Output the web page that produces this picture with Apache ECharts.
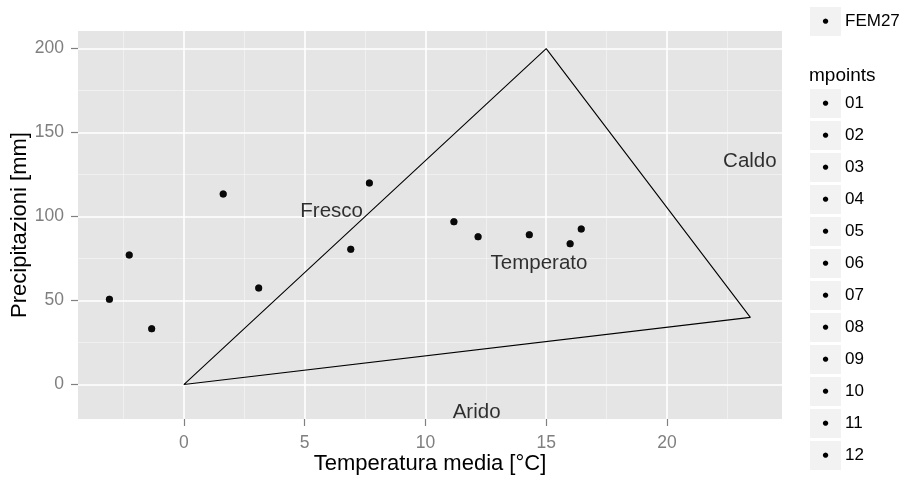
<!DOCTYPE html>
<html>
<head>
<meta charset="utf-8">
<script src="https://cdn.jsdelivr.net/npm/echarts@6/dist/echarts.min.js"></script>
<style>html,body{margin:0;padding:0;background:#fff}#c{width:906px;height:477px}</style>
</head>
<body>
<div id="c"></div>
<script>
// ---- data ----
const months = ['01','02','03','04','05','06','07','08','09','10','11','12'];
const tempMedia = [-3.08, -1.33, 3.10, 6.91, 11.18, 14.30, 16.45, 15.99, 12.18, 7.68, 1.63, -2.26];
const precip    = [50.8, 33.3, 57.5, 80.5, 97.0, 89.2, 92.6, 83.9, 88.0, 120.0, 113.5, 77.1];
const triX = [0, 15, 23.45, 0];
const triY = [0, 200, 40, 0];
const annotText = ['Fresco', 'Temperato', 'Caldo', 'Arido'];
const annotX = [6.12, 14.70, 23.43, 12.12];
const annotY = [102.9, 72.2, 132.7, -16.3];
const xTicks = [0, 5, 10, 15, 20];
const xMinor = [-2.5, 2.5, 7.5, 12.5, 17.5, 22.5];
const yTicks = [0, 50, 100, 150, 200];
const yMinor = [25, 75, 125, 175];
const stationName = 'FEM27';
const legendTitle = 'mpoints';

// ---- chart ----
const FF = '"Liberation Sans", Arial, sans-serif';
const chart = echarts.init(document.getElementById('c'), null, {renderer: 'canvas'});

const legendRich = {
  k: {width: 31, height: 29, lineHeight: 29, backgroundColor: '#F2F2F2', align: 'center',
      verticalAlign: 'middle', fontSize: 7, color: '#000', fontFamily: '"DejaVu Sans"'},
  t: {fontSize: 17, color: '#000', lineHeight: 29, verticalAlign: 'middle', padding: [0, 0, 0, 4], fontFamily: FF}
};
const legendFmt = name => '{k|●}{t|' + name + '}';

const series = [];
series.push({
  type: 'line', data: [], silent: true, z: 1, animation: false,
  markLine: {silent: true, z: 1, symbol: ['none', 'none'], label: {show: false}, animation: false,
    emphasis: {disabled: true},
    lineStyle: {color: '#F2F2F2', width: 0.8, type: 'solid'},
    data: xMinor.map(v => ({xAxis: v})).concat(yMinor.map(v => ({yAxis: v})))}
});
series.push({
  type: 'line', data: [], silent: true, z: 1, animation: false,
  markLine: {silent: true, z: 1, symbol: ['none', 'none'], label: {show: false}, animation: false,
    emphasis: {disabled: true},
    lineStyle: {color: '#FFFFFF', width: 1.6, type: 'solid'},
    data: xTicks.map(v => ({xAxis: v})).concat(yTicks.map(v => ({yAxis: v})))}
});
series.push({
  type: 'line', silent: true, z: 6, animation: false, showSymbol: false, symbol: 'none',
  lineStyle: {color: '#000', width: 1.1},
  data: triX.map((x, i) => [x, triY[i]])
});
series.push({
  type: 'scatter', silent: true, z: 7, animation: false, symbolSize: 0,
  label: {show: true, position: 'inside', formatter: p => p.data.name, color: '#000', fontSize: 20.5, fontFamily: FF},
  data: annotText.map((t, i) => ({name: t, value: [annotX[i], annotY[i]]}))
});
series.push({
  name: stationName, type: 'scatter', z: 8, animation: false, symbolSize: 7,
  itemStyle: {color: '#000'},
  data: tempMedia.map((x, i) => [x, precip[i]])
});
months.forEach((m, i) => {
  series.push({
    name: m, type: 'scatter', z: 8, animation: false, symbolSize: 7,
    itemStyle: {color: '#000'},
    data: [[tempMedia[i], precip[i]]]
  });
});

chart.setOption({
  animation: false,
  backgroundColor: '#fff',
  title: [{text: legendTitle, left: 809, top: 66, padding: 0,
    textStyle: {fontSize: 19, fontWeight: 'normal', color: '#000', fontFamily: FF}}],
  legend: [
    {data: [stationName], left: 805, top: 7, padding: 0, orient: 'vertical', icon: 'none',
     itemWidth: 0, itemHeight: 29, itemGap: 3, selectedMode: false, formatter: legendFmt,
     textStyle: {rich: legendRich}},
    {data: months, left: 805, top: 89, padding: 0, orient: 'vertical', icon: 'none',
     itemWidth: 0, itemHeight: 29, itemGap: 3, selectedMode: false, formatter: legendFmt,
     textStyle: {rich: legendRich}}
  ],
  grid: {left: 78, right: 124, top: 31, bottom: 58, show: true, backgroundColor: '#E5E5E5', borderWidth: 0,
    containLabel: false, outerBoundsMode: 'none'},
  xAxis: {
    type: 'value', min: -4.38, max: 24.76,
    axisLine: {show: true, onZero: false, lineStyle: {color: 'rgba(0,0,0,0)', width: 0}},
    axisTick: {show: true, inside: false, customValues: xTicks, length: 7, lineStyle: {color: '#808080', width: 1.2}},
    axisLabel: {customValues: xTicks, margin: 15, color: '#7F7F7F', fontSize: 17.5, fontFamily: FF},
    splitLine: {show: false},
    name: 'Temperatura media [°C]', nameLocation: 'middle', nameGap: 34, nameMoveOverlap: false,
    nameTextStyle: {fontSize: 22, color: '#000', fontFamily: FF}
  },
  yAxis: {
    type: 'value', min: -20.5, max: 210.5,
    axisLine: {show: true, onZero: false, lineStyle: {color: 'rgba(0,0,0,0)', width: 0}},
    axisTick: {show: true, inside: false, customValues: yTicks, length: 7, lineStyle: {color: '#808080', width: 1.2}},
    axisLabel: {customValues: yTicks, margin: 14, color: '#7F7F7F', fontSize: 17.5, fontFamily: FF},
    splitLine: {show: false},
    name: 'Precipitazioni [mm]', nameLocation: 'middle', nameGap: 47, nameMoveOverlap: false,
    nameTextStyle: {fontSize: 22, color: '#000', fontFamily: FF}
  },
  series: series
});
</script>
</body>
</html>
